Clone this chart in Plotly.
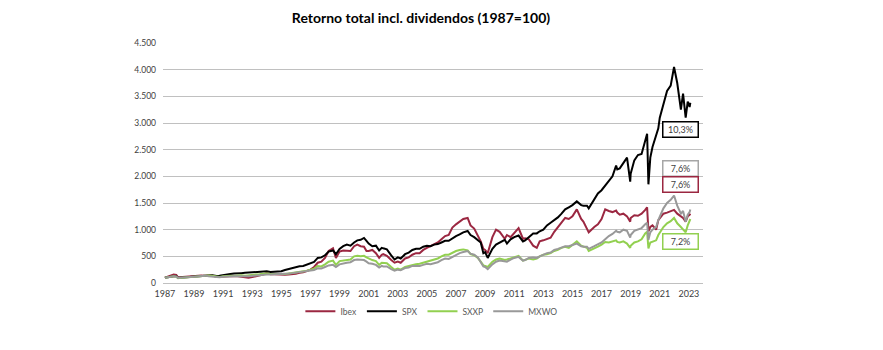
import plotly.graph_objects as go

# ---- data ----
years = [
    1987.0, 1987.3, 1987.6, 1987.78, 1987.9,
    1988.0, 1988.25, 1988.5, 1988.75,
    1989.0, 1989.25, 1989.5, 1989.75,
    1990.0, 1990.25, 1990.55, 1990.75,
    1991.0, 1991.25, 1991.5, 1991.75,
    1992.0, 1992.25, 1992.5, 1992.75,
    1993.0, 1993.25, 1993.5, 1993.75,
    1994.0, 1994.25, 1994.5, 1994.75,
    1995.0, 1995.25, 1995.5, 1995.75,
    1996.0, 1996.25, 1996.5, 1996.75,
    1997.0, 1997.25, 1997.5, 1997.75,
    1998.0, 1998.25, 1998.55, 1998.75,
    1999.0, 1999.25, 1999.5, 1999.75,
    2000.0, 2000.22, 2000.45, 2000.68, 2000.85,
    2001.0, 2001.25, 2001.5, 2001.72, 2001.9,
    2002.0, 2002.25, 2002.55, 2002.78,
    2003.0, 2003.2, 2003.5, 2003.75,
    2004.0, 2004.25, 2004.5, 2004.75,
    2005.0, 2005.25, 2005.5, 2005.75,
    2006.0, 2006.25, 2006.5, 2006.75,
    2007.0, 2007.25, 2007.5, 2007.8,
    2008.0, 2008.25, 2008.5, 2008.7, 2008.88,
    2009.0, 2009.18, 2009.5, 2009.75,
    2010.0, 2010.35, 2010.5, 2010.75,
    2011.0, 2011.3, 2011.6, 2011.75,
    2012.0, 2012.3, 2012.55, 2012.75,
    2013.0, 2013.25, 2013.5, 2013.75,
    2014.0, 2014.25, 2014.5, 2014.75,
    2015.0, 2015.3, 2015.6, 2015.75,
    2016.0, 2016.12, 2016.5, 2016.75,
    2017.0, 2017.25, 2017.5, 2017.75,
    2018.0, 2018.08, 2018.25, 2018.5, 2018.75, 2018.97,
    2019.0, 2019.25, 2019.5, 2019.75,
    2020.0, 2020.13, 2020.22, 2020.35, 2020.5, 2020.75, 2020.9,
    2021.0, 2021.25, 2021.5, 2021.75, 2021.98,
    2022.2, 2022.45, 2022.6, 2022.78, 2022.92,
    2023.05, 2023.1,
]

ibex = [
    100, 135, 160, 150, 105,
    110, 115, 118, 122,
    130, 140, 140, 135,
    135, 140, 115, 118,
    120, 135, 130, 130,
    128, 120, 105, 100,
    110, 125, 140, 160,
    185, 165, 165, 160,
    150, 155, 160, 165,
    175, 190, 200, 225,
    250, 300, 380, 400,
    470, 600, 650, 470,
    590, 610, 600, 600,
    690, 720, 690, 680, 600,
    600, 620, 560, 470, 530,
    540, 510, 430, 380,
    400, 380, 460, 480,
    530, 560, 560, 620,
    660, 690, 730, 760,
    820, 880, 900, 1040,
    1100, 1150, 1200, 1220,
    1080, 1020, 880, 780, 640,
    620, 560, 860, 1000,
    960, 830, 900, 860,
    940, 1030, 830, 840,
    820, 700, 660, 780,
    800, 820, 850, 960,
    1050, 1150, 1220, 1200,
    1250, 1380, 1200, 1150,
    1000, 950, 1050, 1100,
    1200, 1380, 1350, 1330,
    1360, 1320, 1280, 1300, 1250, 1150,
    1220, 1270, 1260, 1300,
    1370, 1420, 970, 1050, 1080, 1000, 1180,
    1220, 1300, 1320, 1350, 1370,
    1300, 1260, 1220, 1150, 1250,
    1280, 1300,
]

spx = [
    100, 118, 125, 130, 95,
    98, 105, 110, 113,
    118, 128, 140, 145,
    140, 145, 130, 135,
    150, 168, 170, 178,
    188, 185, 190, 195,
    205, 205, 210, 214,
    218, 208, 214, 218,
    222, 245, 265, 285,
    300, 315, 318, 345,
    380, 395, 470, 480,
    520, 590, 610, 540,
    640, 690, 720, 700,
    760, 800, 810, 845, 790,
    740, 690, 700, 610, 660,
    650, 630, 520, 440,
    480, 460, 540, 570,
    620, 640, 640, 680,
    700, 690, 720, 730,
    760, 790, 790, 840,
    880, 910, 950, 975,
    900, 860, 810, 760, 560,
    580, 470, 640, 720,
    760, 810, 740, 820,
    860, 890, 780, 800,
    860, 930, 930, 970,
    1000, 1080, 1130, 1180,
    1230, 1300, 1380, 1420,
    1460, 1530, 1460, 1450,
    1450, 1400, 1580, 1680,
    1740, 1820, 1900, 2000,
    2200, 2130, 2150, 2260, 2350, 1900,
    2050, 2300, 2400, 2420,
    2700, 2800, 1850, 2350, 2550, 2750, 2900,
    3100, 3350, 3600, 3700, 4050,
    3750, 3250, 3550, 3100, 3400,
    3300, 3380,
]

sxxp = [
    100, 115, 125, 120, 90,
    95, 100, 108, 110,
    118, 125, 138, 140,
    140, 138, 120, 115,
    125, 135, 135, 130,
    138, 145, 135, 140,
    150, 155, 165, 175,
    180, 170, 170, 165,
    165, 170, 180, 190,
    200, 210, 210, 230,
    250, 270, 320, 310,
    350, 400, 420, 340,
    410, 420, 430, 440,
    500, 510, 500, 510, 480,
    460, 430, 410, 340, 380,
    380, 370, 300, 250,
    270, 250, 300, 320,
    340, 350, 360, 380,
    400, 410, 440, 460,
    500, 530, 530, 570,
    600, 620, 630, 610,
    540, 520, 470, 400, 330,
    320, 300, 400, 440,
    460, 430, 440, 460,
    490, 510, 420, 430,
    460, 440, 460, 500,
    530, 540, 560, 600,
    620, 660, 680, 660,
    720, 780, 700, 690,
    660, 600, 640, 680,
    720, 770, 760, 780,
    800, 770, 760, 780, 740, 660,
    700, 760, 780, 820,
    930, 960, 650, 760, 780, 800, 900,
    950, 1050, 1120, 1160, 1220,
    1120, 1050, 1000, 950, 1080,
    1150, 1200,
]

mxwo = [
    100, 115, 125, 122, 95,
    100, 108, 110, 112,
    118, 125, 135, 138,
    125, 118, 120, 110,
    118, 125, 125, 128,
    128, 122, 125, 125,
    132, 145, 150, 155,
    160, 158, 160, 160,
    162, 170, 178, 185,
    195, 205, 205, 215,
    230, 245, 275, 270,
    300, 330, 340, 300,
    350, 370, 380, 390,
    430, 440, 430, 430, 400,
    370, 360, 340, 290, 320,
    310, 310, 260, 230,
    250, 240, 280, 290,
    320, 320, 320, 340,
    360, 350, 370, 390,
    430, 460, 450, 490,
    520, 560, 580, 600,
    550, 530, 480, 400, 310,
    300, 260, 350, 400,
    420, 400, 400, 440,
    470, 490, 420, 430,
    470, 480, 470, 500,
    530, 560, 570, 620,
    640, 660, 690, 690,
    710, 740, 690, 680,
    680, 640, 690, 720,
    760, 820, 880, 920,
    980, 960, 950, 1000, 980, 850,
    900, 980, 1000, 1030,
    1100, 1130, 810, 950, 1000, 1050, 1180,
    1250, 1400, 1500, 1560, 1640,
    1450, 1300, 1350, 1150, 1280,
    1330, 1380,
]

series_names = ["Ibex", "SPX", "SXXP", "MXWO"]
series_values = [ibex, spx, sxxp, mxwo]
series_colors = ["#9B2741", "#000000", "#92D050", "#999999"]

cagr_labels = ["10,3%", "7,6%", "7,6%", "7,2%"]
cagr_colors = ["#000000", "#A6A6A6", "#9B2741", "#92D050"]
cagr_pos_y = [2875, 2150, 1845, 775]

title_text = "Retorno total incl. dividendos (1987=100)"

# ---- figure ----
FONT = "Lato, 'Open Sans', sans-serif"
fig = go.Figure()
for name, vals, col in zip(series_names, series_values, series_colors):
    fig.add_trace(go.Scatter(
        x=years, y=vals, mode="lines", name=name,
        line=dict(color=col, width=2),
    ))

for lab, col, yv in zip(cagr_labels, cagr_colors, cagr_pos_y):
    fig.add_annotation(
        x=2022.45, y=yv, xref="x", yref="y", text=lab, showarrow=False,
        font=dict(family=FONT, size=9, color="#404040"),
        bordercolor=col, borderwidth=1.5, borderpad=1,
        width=32, height=12, bgcolor="white",
    )

fig.update_layout(
    width=883, height=350,
    margin=dict(l=163, r=180, t=43, b=67),
    paper_bgcolor="white", plot_bgcolor="white",
    separators=",.",
    font=dict(family=FONT, size=9, color="#404040"),
    title=dict(
        text="<b>" + title_text + "</b>",
        x=421 / 883, xref="container", xanchor="center",
        y=1 - 18 / 350, yref="container", yanchor="middle",
        font=dict(family=FONT, size=14, color="#000000"),
    ),
    showlegend=True,
    legend=dict(
        orientation="h", x=0.497, xanchor="center", y=-0.118, yanchor="middle",
        font=dict(family=FONT, size=8.5, color="#595959"),
        itemwidth=30, bgcolor="rgba(0,0,0,0)",
    ),
    xaxis=dict(
        range=[1986.87, 2023.97], tick0=1987, dtick=2, tickformat="d",
        showgrid=False, zeroline=False, showline=False, ticks="",
        ticklabelstandoff=4,
        tickfont=dict(family=FONT, size=9, color="#404040"),
    ),
    yaxis=dict(
        range=[0, 4500], dtick=500, tickformat=",.0f",
        showgrid=True, gridcolor="#C0C0C0", gridwidth=1,
        zeroline=True, zerolinecolor="#C0C0C0", zerolinewidth=1,
        showline=False, ticks="", ticklabelstandoff=6,
        tickfont=dict(family=FONT, size=8.5, color="#404040"),
    ),
)

fig.write_html("out.html")
